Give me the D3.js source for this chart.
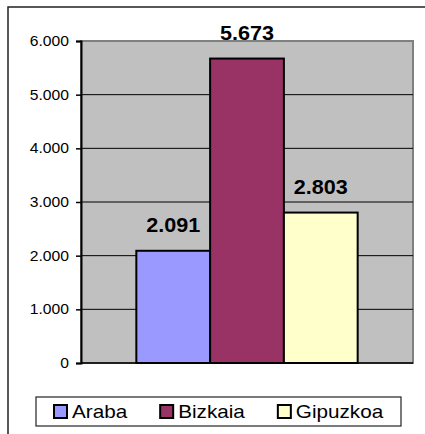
<!DOCTYPE html>
<style>
body { margin: 0; background: #fff; }
text { font-family: "Liberation Sans", Arial, sans-serif; }
</style>
<svg id="chart" width="425" height="434"></svg>
<script src="https://d3js.org/d3.v7.min.js"></script>
<script>

var categories = ["Araba", "Bizkaia", "Gipuzkoa"];
var values = [2091, 5673, 2803];
var yTicks = [0, 1000, 2000, 3000, 4000, 5000, 6000];
var colors = ["#9999ff", "#993366", "#ffffcc"];

var svg = d3.select("#chart");
var plot = {left: 81, right: 413, top: 41, bottom: 363};
var stretch = 1.12; // the original text is a little wider than Arial

var fmt = d3.formatLocale({decimal: ",", thousands: ".", grouping: [3], currency: ["", ""]}).format(",");

var y = d3.scaleLinear().domain([0, 6000]).range([plot.bottom, plot.top]);
var x0 = d3.scaleBand().domain(["all"]).range([plot.left, plot.right]).paddingInner(0).paddingOuter(0.25);
var x1 = d3.scaleBand().domain(categories).range([0, x0.bandwidth()]);
var z = d3.scaleOrdinal().domain(categories).range(colors);

// outer frame (right and bottom edges fall outside the picture)
svg.append("rect")
  .attr("x", 8).attr("y", 7).attr("width", 440).attr("height", 440)
  .attr("fill", "none").attr("stroke", "#222").attr("stroke-width", 1.5);

// plot area
svg.append("rect")
  .attr("x", plot.left).attr("y", plot.top)
  .attr("width", plot.right - plot.left).attr("height", plot.bottom - plot.top)
  .attr("fill", "#c0c0c0").attr("stroke", "#808080").attr("stroke-width", 2);

// gridlines
svg.append("g")
  .selectAll("line")
  .data(yTicks.slice(1, -1))
  .enter().append("line")
    .attr("x1", plot.left).attr("x2", plot.right)
    .attr("y1", function(d) { return y(d); })
    .attr("y2", function(d) { return y(d); })
    .attr("stroke", "#000").attr("stroke-width", 1);

// bars
svg.append("g")
  .attr("transform", "translate(" + x0("all") + ",0)")
  .selectAll("rect")
  .data(values)
  .enter().append("rect")
    .attr("x", function(d, i) { return x1(categories[i]); })
    .attr("y", function(d) { return y(d); })
    .attr("width", x1.bandwidth())
    .attr("height", function(d) { return y(0) - y(d); })
    .attr("fill", function(d, i) { return z(categories[i]); })
    .attr("stroke", "#000").attr("stroke-width", 2);

// value labels
svg.append("g")
  .selectAll("text")
  .data(values)
  .enter().append("text")
    .attr("transform", function(d, i) {
      var cx = x0("all") + x1(categories[i]) + x1.bandwidth() / 2;
      return "translate(" + cx + "," + (y(d) - 19) + ") scale(1.08,1)";
    })
    .attr("text-anchor", "middle")
    .attr("font-size", 20)
    .attr("font-weight", "bold")
    .text(function(d) { return fmt(d); });

// y axis
var yAxis = svg.append("g")
  .attr("transform", "translate(" + plot.left + ",0)")
  .call(d3.axisLeft(y).tickValues(yTicks).tickSize(5).tickPadding(0).tickFormat(""));
yAxis.select(".domain").attr("stroke", "#000").attr("stroke-width", 2);
yAxis.selectAll(".tick line").attr("stroke", "#000").attr("stroke-width", 1.5);

svg.append("g")
  .selectAll("text")
  .data(yTicks)
  .enter().append("text")
    .attr("transform", function(d) { return "translate(69," + (y(d) + 5) + ") scale(" + stretch + ",1)"; })
    .attr("text-anchor", "end")
    .attr("font-size", 14)
    .text(function(d) { return fmt(d); });

// x axis line
svg.append("line")
  .attr("x1", plot.left).attr("x2", plot.right)
  .attr("y1", y(0)).attr("y2", y(0))
  .attr("stroke", "#000").attr("stroke-width", 1.5);

// legend
var legend = svg.append("g");
legend.append("rect")
  .attr("x", 36).attr("y", 397).attr("width", 365).attr("height", 29)
  .attr("fill", "#fff").attr("stroke", "#222").attr("stroke-width", 1.2);

var lx = 54;
categories.forEach(function(c) {
  legend.append("rect")
    .attr("x", lx).attr("y", 405).attr("width", 13).attr("height", 13)
    .attr("fill", z(c)).attr("stroke", "#000").attr("stroke-width", 2);
  var t = legend.append("text")
    .attr("transform", "translate(" + (lx + 18) + ",418) scale(1.15,1)")
    .attr("font-size", 18)
    .text(c);
  lx += 18 + t.node().getComputedTextLength() * 1.15 + 33;
});

</script>
